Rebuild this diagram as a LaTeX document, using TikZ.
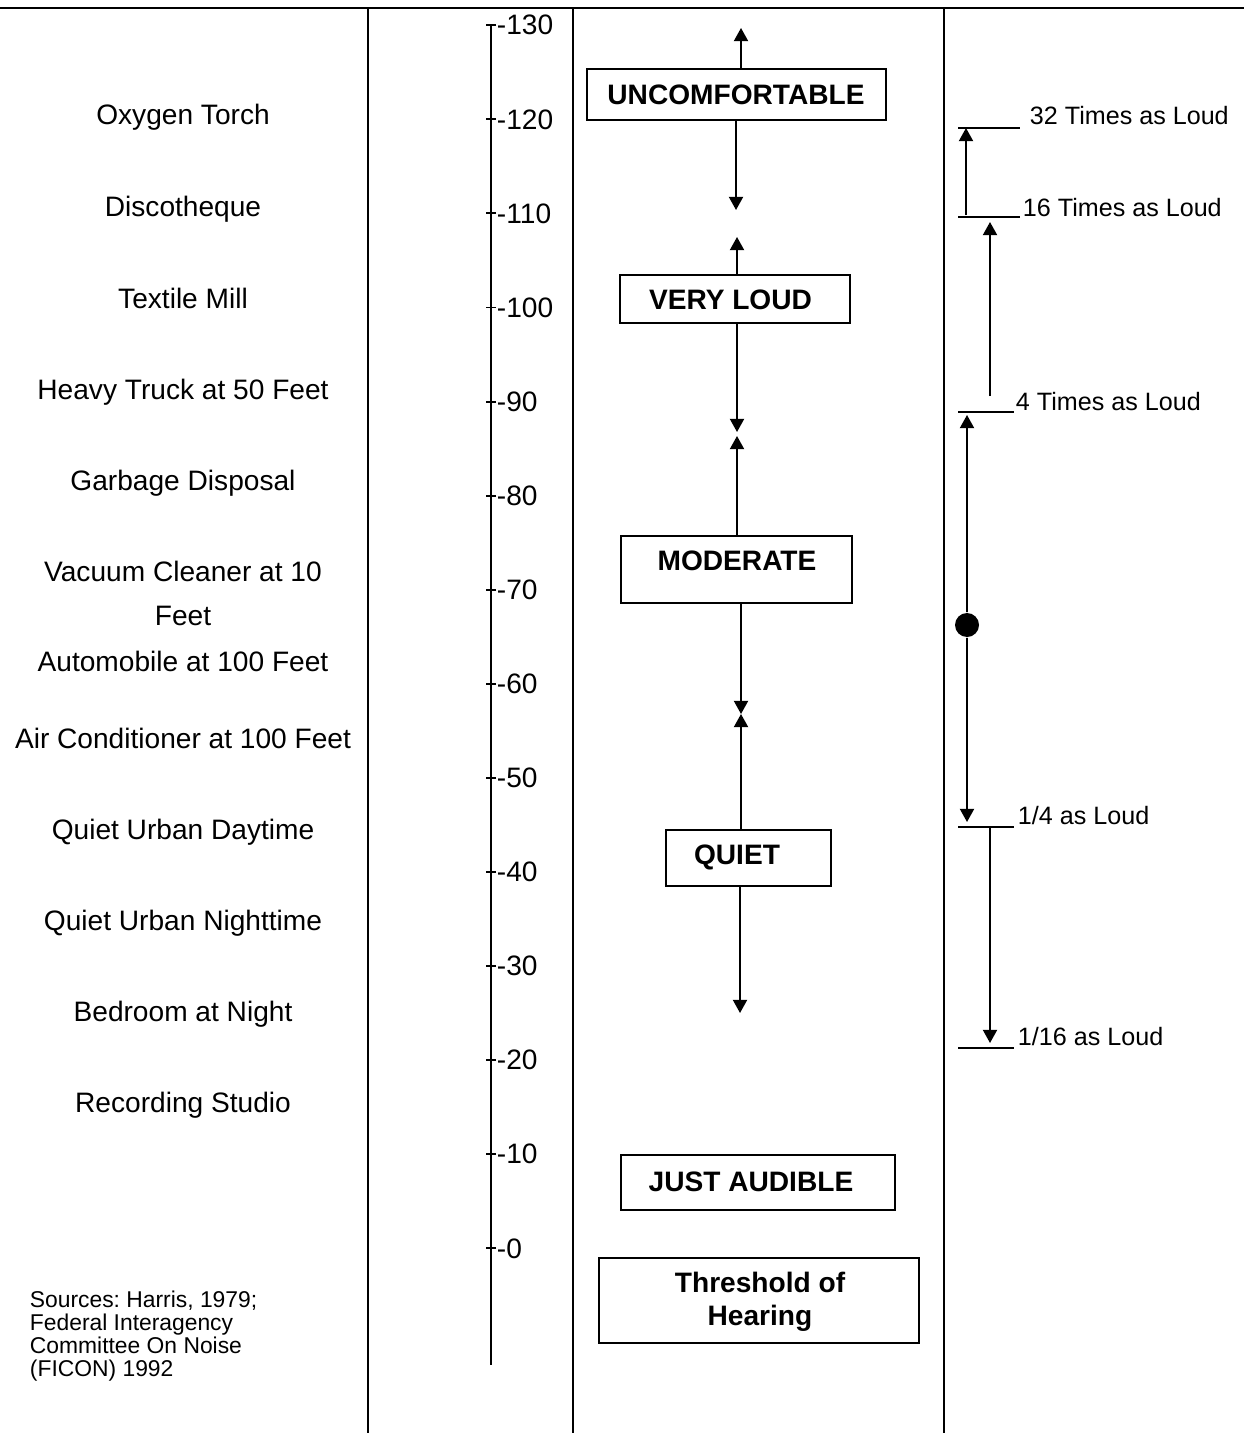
\documentclass[tikz,border=0pt]{standalone}
\usepackage{fontspec}
\setmainfont{Liberation Sans}
\usetikzlibrary{arrows.meta,positioning}
\frenchspacing

\begin{document}
\begin{tikzpicture}[x=0.02cm, y=-0.02cm, line width=1.1pt,
    srclabel/.style={anchor=base, inner sep=0pt, font=\fontsize{16}{25}\selectfont, align=center},
    dbtext/.style={anchor=base west, inner sep=0pt, font=\fontsize{16}{19}\selectfont},
    lvlbox/.style={draw, line width=0.9pt, inner sep=0pt},
    lvltext/.style={inner sep=0pt, font=\fontsize{16}{18.8}\selectfont\bfseries, align=center},
    loudtext/.style={anchor=base west, inner sep=0pt, font=\fontsize{14.3}{17}\selectfont},
    loudmark/.style={line width=0.8pt},
    tip/.style={-{Triangle[length=7.5pt,width=8pt]}},
    dotnode/.style={circle, fill, inner sep=0pt, minimum size=0.48cm}]
        \useasboundingbox (0,0) rectangle (1244,1433);
        % Frame of the table
        \draw (0,8) -- (1244,8);
        \foreach \x in {368,573,944} \draw (\x,8) -- (\x,1433);
        % Noise sources in the first column
        \foreach \y/\txt [count=\i] in {115/Oxygen Torch, 206/Discotheque, 298/Textile Mill,
            389/Heavy Truck at 50 Feet, 480/Garbage Disposal, 661/Automobile at 100 Feet,
            738/Air Conditioner at 100 Feet, 829/Quiet Urban Daytime, 920/Quiet Urban Nighttime,
            1011/Bedroom at Night, 1102/Recording Studio}
            \node[srclabel] (src\i) at (183,\y+10) {\txt};
        \node[srclabel] (vacuum) at (183,625) {Vacuum Cleaner at 10\\Feet};
        \node[anchor=north west, inner sep=0pt, align=left, font=\fontsize{13}{13.1}\selectfont]
            (sources) at (29,1290) {Sources: Harris, 1979;\\Federal Interagency\\Committee On Noise\\(FICON) 1992};
        % Decibel scale
        \draw (491,25) -- (491,1365);
        \foreach \v in {0,10,...,130} {
            \node[dbtext] (db\v) at (496,{1258-9.408*\v}) {-\v};
            \draw (db\v.west) -- ++(-10,0);
        }
        % Levels in the third column
        \node[lvlbox, minimum width=5.98cm, minimum height=1.02cm] (unc) at (736.5,94.5) {};
        \node[lvltext] (uncT) at (736,95) {UNCOMFORTABLE};
        \node[lvlbox, minimum width=4.6cm, minimum height=0.96cm] (vloud) at (735,299) {};
        \node[lvltext] (vloudT) at (730.5,300) {VERY LOUD};
        \node[lvlbox, minimum width=4.62cm, minimum height=1.34cm] (moderate) at (736.5,569.5) {};
        \node[lvltext] (moderateT) at (737,561) {MODERATE};
        \node[lvlbox, minimum width=3.3cm, minimum height=1.12cm] (quiet) at (748.5,858) {};
        \node[lvltext] (quietT) at (737,857) {QUIET};
        \node[lvlbox, minimum width=5.48cm, minimum height=1.1cm] (just) at (758,1182.5) {};
        \node[lvltext] (justT) at (751,1182) {JUST AUDIBLE};
        \node[lvlbox, minimum width=6.4cm, minimum height=1.7cm] (thr) at (759,1300.5) {};
        \node[lvltext] (thrT) at (760,1302) {Threshold of\\Hearing};
        % Arrow ends between the levels
        \coordinate (ut) at (741,28);
        \coordinate (uv1) at (736,210);
        \coordinate (uv2) at (737,237);
        \coordinate (vm1) at (737,432);
        \coordinate (vm2) at (737,436);
        \coordinate (mq) at (741,714);
        \coordinate (qb) at (740,1013);
        \draw[tip] (unc.north -| ut) -- (ut);
        \draw[tip] (unc.south -| uv1) -- (uv1);
        \draw[tip] (vloud.north -| uv2) -- (uv2);
        \draw[tip] (vloud.south -| vm1) -- (vm1);
        \draw[tip] (moderate.north -| vm2) -- (vm2);
        \draw[tip] (moderate.south -| mq) -- (mq);
        \draw[tip] (quiet.north -| mq) -- (mq);
        \draw[tip] (quiet.south -| qb) -- (qb);
        % Loudness marks in the last column
        \coordinate (m32) at (958,128);
        \coordinate (m16) at (958,217);
        \coordinate (m4) at (958,412);
        \coordinate (mq4) at (958,827);
        \coordinate (mq16) at (958,1048);
        \draw[loudmark] (m32) -- ++(62,0);
        \draw[loudmark] (m16) -- ++(62,0);
        \draw[loudmark] (m4) -- ++(56,0);
        \draw[loudmark] (mq4) -- ++(56,0);
        \draw[loudmark] (mq16) -- ++(56,0);
        \node[loudtext] (t32) at (1029,125) {32 Times as Loud};
        \node[loudtext] (t16) at (1022,216) {16 Times as Loud};
        \node[loudtext] (t4) at (1015,410) {4 Times as Loud};
        \node[loudtext] (tq4) at (1017,824) {1/4 as Loud};
        \node[loudtext] (tq16) at (1017,1045) {1/16 as Loud};
        % Loudness arrows
        \node[dotnode] (dot) at (967,625) {};
        \draw[tip] ([xshift=0.16cm,yshift=0.04cm]m16) -- ([xshift=0.16cm]m32);
        \draw[tip] ([xshift=0.64cm,yshift=0.32cm]m4) -- ([xshift=0.64cm,yshift=-0.1cm]m16);
        \draw[tip] (dot) -- ([xshift=0.18cm,yshift=-0.06cm]m4);
        \draw[tip] (dot) -- ([xshift=0.18cm,yshift=0.1cm]mq4);
        \draw[tip] ([xshift=0.64cm]mq4) -- ([xshift=0.64cm,yshift=0.1cm]mq16);
\end{tikzpicture}
\end{document}
